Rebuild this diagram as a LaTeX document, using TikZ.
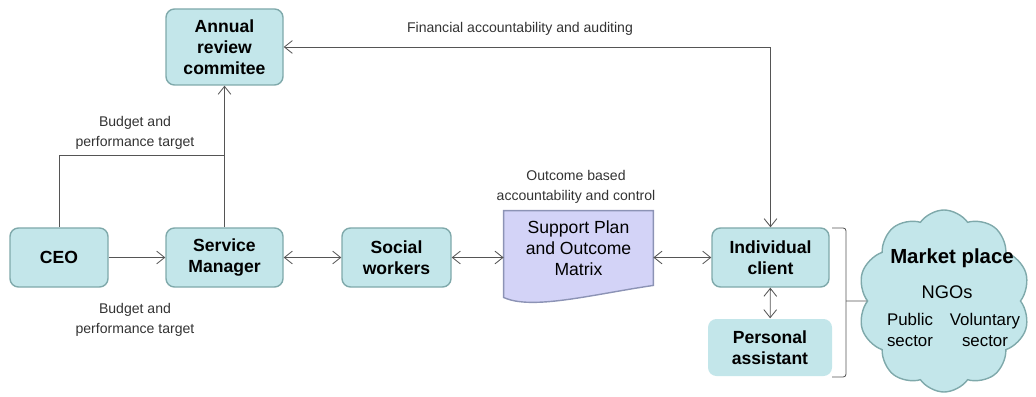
\documentclass[tikz,border=0pt]{standalone}
\usepackage{fontspec}
\setmainfont{Liberation Sans}
\usetikzlibrary{arrows.meta,shapes.symbols,backgrounds}
\definecolor{boxfill}{HTML}{C3E6EA}
\definecolor{boxline}{HTML}{7FA9AB}
\definecolor{docfill}{HTML}{D3D3F7}
\definecolor{docline}{HTML}{8C93B5}
\definecolor{linegrey}{HTML}{555555}
\definecolor{lblgrey}{HTML}{333333}
\begin{document}
\begin{tikzpicture}[
    >={Straight Barb[length=2mm,width=3.2mm]},
    every path/.style={line width=0.6pt},
    box/.style={rectangle, rounded corners=6pt, draw=boxline, line width=1pt, fill=boxfill, align=center, font=\fontsize{12.5}{15}\selectfont\bfseries},
    lbl/.style={align=center, text=lblgrey, font=\fontsize{10}{14}\selectfont},
    conn/.style={draw=linegrey}
  ]
    \useasboundingbox (0,0) rectangle (25.9,9.9);
    % Draw the boxes of the chain.
    \node[box, minimum width=2.925cm, minimum height=1.9cm] (ar) at (5.6125,8.725) {Annual\\review\\commitee};
    \node[box, minimum width=2.45cm, minimum height=1.475cm] (ceo) at (1.475,3.4625) {CEO};
    \node[box, minimum width=2.925cm, minimum height=1.475cm] (sm) at (5.6125,3.4625) {Service\\Manager};
    \node[box, minimum width=2.725cm, minimum height=1.475cm] (sw) at (9.9125,3.4625) {Social\\workers};
    \node[align=center, minimum width=3.725cm, minimum height=1.85cm, font=\fontsize{12.5}{15}\selectfont] (sp) at (14.4625,3.7) {Support Plan\\and Outcome\\Matrix};
    \node[box, minimum width=2.925cm, minimum height=1.475cm] (ic) at (19.2625,3.4625) {Individual\\client};
    \node[box, draw=none, minimum width=3.1cm, minimum height=1.425cm] (pa) at (19.25,1.2125) {Personal\\assistant};
    % Draw the document outline behind the support plan.
    \begin{scope}[on background layer]
      \draw[draw=docline, fill=docfill, line width=1pt] (sp.north west) -- (sp.north east) -- (sp.south east)
        .. controls +(-1.5,-0.22) and +(0.7,-0.33) .. ([yshift=-3mm]sp.south west) -- cycle;
    \end{scope}
    % Draw the market place cloud and its texts.
    \node[cloud, cloud puffs=10, cloud puff arc=110, aspect=0.95, draw=boxline, line width=1pt, fill=boxfill, minimum width=4.3cm, minimum height=4.55cm, inner sep=0pt] (mp) at (23.6,2.375) {};
    \node[font=\fontsize{14.5}{17}\selectfont\bfseries] (mpt) at (23.8,3.45) {Market place};
    \node[font=\fontsize{13}{15}\selectfont] (ngo) at (23.675,2.6) {NGOs};
    \node[align=center, font=\fontsize{12}{14.5}\selectfont] (pub) at (22.75,1.65) {Public\\sector};
    \node[align=center, font=\fontsize{12}{14.5}\selectfont] (vol) at (24.625,1.65) {Voluntary\\sector};
    % Draw the budget lines from the CEO and the service manager.
    \coordinate (bj) at (5.6125,6.025);
    \draw[conn] (ceo.north) |- (bj);
    \draw[conn, ->] (sm.north) -- (ar.south);
    \draw[conn, ->] (ceo) -- (sm);
    \node[lbl] (bud1) at (3.375,6.575) {Budget and\\performance target};
    \node[lbl] (bud2) at (3.375,1.9) {Budget and\\performance target};
    % Draw the links along the chain.
    \draw[conn, <->] (sm) -- (sw);
    \draw[conn, <->] (sw.east) -- (sw.east -| sp.west);
    \draw[conn, <->] (ic.west -| sp.east) -- (ic.west);
    \draw[conn, <->] (ic) -- (pa);
    \node[lbl] (oba) at (14.4,5.225) {Outcome based\\accountability and control};
    % Draw the financial accountability loop.
    \draw[conn, <->] (ar.east) -| (ic.north);
    \node[lbl] (fin) at (13.0,9.175) {Financial accountability and auditing};
    % Draw the bracket to the market place.
    \draw[conn, rounded corners=2pt] (20.8,4.2) -| (21.15,0.475) -- (20.8,0.475);
    \draw[conn] (21.15,2.375) -- (mp.west);
  \end{tikzpicture}
\end{document}
